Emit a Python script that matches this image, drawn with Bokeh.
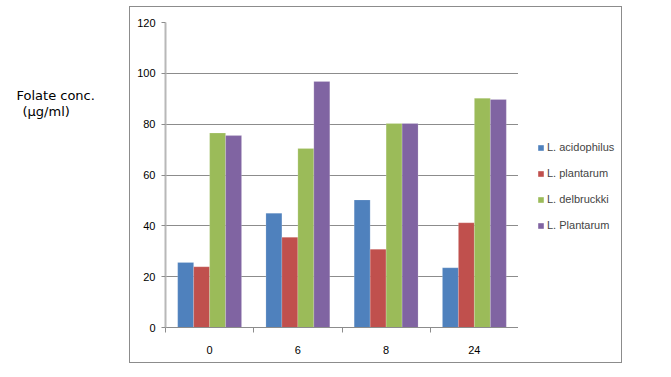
from bokeh.plotting import figure
from bokeh.layouts import row, column
from bokeh.models import (Range1d, FixedTicker, Legend, LegendItem, Label,
                          ColumnDataSource, Spacer)
from bokeh.embed import file_html
from bokeh.resources import INLINE

categories = ["0", "6", "8", "24"]
series = ["L. acidophilus", "L. plantarum", "L. delbruckki", "L. Plantarum"]
colors = ["#4F81BD", "#C0504D", "#9BBB59", "#8064A2"]
acidophilus = [25.6, 45.0, 50.2, 23.5]
plantarum = [23.9, 35.5, 30.8, 41.2]
delbruckki = [76.5, 70.4, 80.3, 90.2]
Plantarum = [75.5, 96.8, 80.3, 89.7]
values = [acidophilus, plantarum, delbruckki, Plantarum]
y_ticks = [0, 20, 40, 60, 80, 100, 120]
y_title = ["Folate conc.", "(µg/ml)"]

FONT = "Liberation Sans"
BOX = "#8c8c8c"


def blank(w, h):
    f = figure(width=w, height=h, min_border=0, x_axis_type=None, y_axis_type=None,
               x_range=Range1d(0, w), y_range=Range1d(h, 0),
               output_backend="svg", toolbar_location=None, tools="")
    f.outline_line_color = None
    f.grid.grid_line_color = None
    return f


def line(w, h):
    return Spacer(width=w, height=h, styles={"background-color": BOX})


# left area holding the y-axis title
lf = blank(129, 369)
lf.add_layout(Label(x=16, y=95, text=y_title[0], text_font="DejaVu Sans",
                    text_font_size="13px", text_baseline="middle", text_color="black"))
lf.add_layout(Label(x=22, y=111, text=y_title[1], text_font="DejaVu Sans",
                    text_font_size="13px", text_baseline="middle", text_color="black"))

# main chart
p = figure(frame_width=353, frame_height=305, min_border_left=35,
           min_border_right=0, min_border_top=15, min_border_bottom=35,
           x_range=Range1d(0, len(categories)), y_range=Range1d(0, 120),
           output_backend="svg", toolbar_location=None, tools="")
p.outline_line_color = None

centers = [i + 0.5 for i in range(len(categories))]
bar_w = 0.181
offsets = [-1.5 * bar_w, -0.5 * bar_w, 0.5 * bar_w, 1.5 * bar_w]
for name, vals, col, off in zip(series, values, colors, offsets):
    src = ColumnDataSource(dict(x=[c + off for c in centers], top=vals))
    p.vbar(x="x", top="top", width=bar_w, bottom=0, source=src,
           fill_color=col, line_color="white", line_alpha=0.35, line_width=0.5)

# x axis: labels at category centers, ticks at category boundaries
p.xaxis.ticker = FixedTicker(ticks=centers, minor_ticks=list(range(len(categories) + 1)))
p.xaxis.major_label_overrides = {c: lab for c, lab in zip(centers, categories)}
p.xaxis.major_tick_line_color = None
p.xaxis.major_tick_out = 0
p.xaxis.major_tick_in = 0
p.xaxis.minor_tick_out = 5
p.xaxis.minor_tick_in = 0
p.xaxis.minor_tick_line_color = "#8c8c8c"
p.xaxis.axis_line_color = "#8c8c8c"
p.xaxis.major_label_standoff = 13
p.xgrid.grid_line_color = None

p.yaxis.ticker = FixedTicker(ticks=y_ticks)
p.yaxis.minor_tick_line_color = None
p.yaxis.major_tick_out = 4
p.yaxis.major_tick_in = 0
p.yaxis.major_tick_line_color = "#8c8c8c"
p.yaxis.axis_line_color = "#b8b8b8"
p.yaxis.axis_line_width = 2
p.yaxis.major_label_standoff = 6
p.ygrid.grid_line_color = "#8c8c8c"
p.ygrid.grid_line_width = 1

for ax in (p.xaxis, p.yaxis):
    ax.major_label_text_font = FONT
    ax.major_label_text_font_size = "11px"
    ax.major_label_text_color = "black"

# legend area: zero-width key renderers carrying the series colours
lg = blank(103, 355)
keys = []
for name, vals, col in zip(series, values, colors):
    r = lg.vbar(x=centers, top=vals, width=0, fill_color=col, line_color=None)
    keys.append(LegendItem(label=name, renderers=[r], index=0))
legend = Legend(items=keys, location=(19, 95), padding=0, margin=0, spacing=12,
                glyph_width=7, glyph_height=7, label_height=14, label_standoff=3,
                label_text_font=FONT, label_text_font_size="11px",
                border_line_color=None, background_fill_alpha=0)
lg.add_layout(legend)

# thin frame box around chart + legend
boxed = row(
    column(Spacer(width=1, height=6), line(1, 357)),
    column(Spacer(width=491, height=6), line(491, 1), row(p, lg), line(491, 1)),
    column(Spacer(width=1, height=6), line(1, 357)),
)
layout = row(lf, boxed)
open("out.html", "w").write(file_html(layout, INLINE))
